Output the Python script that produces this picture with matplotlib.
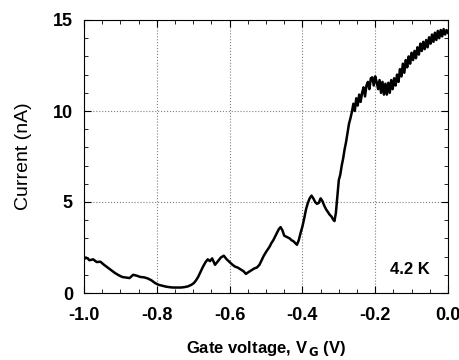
import numpy as np
import matplotlib.pyplot as plt
from matplotlib.ticker import MultipleLocator

plt.rcParams['font.family'] = ['Liberation Sans', 'DejaVu Sans']

# gate voltage (V) and current (nA)
vg = [-1.000, -0.995, -0.990, -0.985, -0.975, -0.965, -0.955, -0.945, -0.935, -0.925,
      -0.915, -0.905, -0.895, -0.885, -0.875, -0.865, -0.855, -0.845, -0.835, -0.825,
      -0.815, -0.805, -0.795, -0.785, -0.775, -0.765, -0.755, -0.745, -0.735, -0.725,
      -0.715, -0.705, -0.698, -0.692, -0.686, -0.680, -0.673, -0.666, -0.660, -0.654,
      -0.648, -0.640, -0.632, -0.624, -0.616, -0.608, -0.600, -0.592, -0.585, -0.578,
      -0.570, -0.562, -0.555, -0.548, -0.540, -0.532, -0.525, -0.518, -0.512, -0.506,
      -0.500, -0.495, -0.490, -0.485, -0.480, -0.475, -0.470, -0.465, -0.460, -0.455,
      -0.450, -0.445, -0.440, -0.435, -0.430, -0.425, -0.420, -0.415, -0.410, -0.405,
      -0.400, -0.395, -0.390, -0.385, -0.380, -0.375, -0.370, -0.365, -0.360, -0.355,
      -0.350, -0.345, -0.340, -0.335, -0.330, -0.325, -0.320, -0.316, -0.312, -0.308,
      -0.304, -0.300, -0.296, -0.292, -0.288, -0.284, -0.280, -0.276, -0.272, -0.268,
      -0.264, -0.260, -0.256, -0.252, -0.248, -0.244, -0.240, -0.236, -0.232, -0.228,
      -0.224, -0.220, -0.216, -0.212, -0.208, -0.204, -0.200, -0.196, -0.192, -0.188,
      -0.184, -0.180, -0.176, -0.172, -0.168, -0.164, -0.160, -0.156, -0.152, -0.148,
      -0.144, -0.140, -0.136, -0.132, -0.128, -0.124, -0.120, -0.116, -0.112, -0.108,
      -0.104, -0.100, -0.096, -0.092, -0.088, -0.084, -0.080, -0.076, -0.072, -0.068,
      -0.064, -0.060, -0.056, -0.052, -0.048, -0.044, -0.040, -0.036, -0.032, -0.028,
      -0.024, -0.020, -0.016, -0.012, -0.008, -0.004, 0.000]
current = [1.85, 1.95, 1.90, 1.80, 1.85, 1.70, 1.72, 1.55, 1.40, 1.25,
           1.10, 0.98, 0.88, 0.85, 0.82, 1.00, 0.95, 0.88, 0.86, 0.80,
           0.70, 0.55, 0.45, 0.40, 0.35, 0.32, 0.30, 0.30, 0.30, 0.32,
           0.36, 0.45, 0.55, 0.70, 0.90, 1.15, 1.45, 1.70, 1.85, 1.75,
           1.90, 1.55, 1.75, 1.95, 2.05, 1.85, 1.70, 1.55, 1.45, 1.40,
           1.30, 1.20, 1.05, 1.15, 1.25, 1.35, 1.40, 1.55, 1.80, 2.05,
           2.25, 2.40, 2.55, 2.75, 2.90, 3.10, 3.30, 3.50, 3.62, 3.45,
           3.15, 3.10, 3.05, 3.00, 2.90, 2.85, 2.75, 2.65, 2.90, 3.30,
           3.65, 4.10, 4.60, 4.95, 5.20, 5.35, 5.20, 5.00, 4.90, 4.95,
           5.20, 5.05, 4.80, 4.60, 4.45, 4.30, 4.20, 4.05, 3.95, 4.40,
           5.30, 6.20, 6.50, 7.00, 7.40, 7.90, 8.30, 8.80, 9.30, 9.60,
           9.95, 10.40, 10.00, 10.70, 10.30, 10.90, 10.50, 11.00, 11.30, 10.80,
           11.40, 11.60, 11.20, 11.80, 11.85, 11.40, 11.90, 11.60, 11.20, 11.70,
           11.00, 11.60, 10.90, 11.50, 10.90, 11.55, 11.00, 11.70, 11.20, 11.80,
           11.40, 12.00, 11.60, 12.30, 11.90, 12.60, 12.10, 12.80, 12.40, 13.00,
           12.60, 13.20, 12.80, 13.30, 12.90, 13.50, 13.10, 13.70, 13.30, 13.80,
           13.40, 13.90, 13.50, 14.05, 13.70, 14.20, 13.80, 14.30, 13.90, 14.40,
           14.00, 14.45, 14.10, 14.50, 14.20, 14.45, 14.30]

xticks = [-1.0, -0.8, -0.6, -0.4, -0.2, 0.0]
xtick_labels = ['-1.0', '-0.8', '-0.6', '-0.4', '-0.2', '0.0']
yticks = [0, 5, 10, 15]

fig = plt.figure(figsize=(4.6, 3.6), dpi=100)
ax = fig.add_axes([84/460, 67/360, 364/460, 273/360])

ax.plot(vg, current, color='black', linewidth=1.8)

ax.set_xlim(-1.0, 0.0)
ax.set_ylim(0, 15)
ax.set_xticks(xticks, xtick_labels, fontweight='bold')
ax.set_yticks(yticks, [str(t) for t in yticks], fontweight='bold')
ax.xaxis.set_minor_locator(MultipleLocator(0.05))
ax.yaxis.set_minor_locator(MultipleLocator(1))
ax.tick_params(which='both', direction='in', top=True, right=True)
ax.tick_params(which='major', length=5, labelsize=13)
ax.tick_params(axis='x', which='major', pad=10)
ax.tick_params(axis='y', which='major', pad=8)
ax.tick_params(which='minor', length=3)
ax.grid(True, which='major', color='grey', linestyle=':', linewidth=0.8)

ax.set_ylabel('Current (nA)', fontsize=14)
ax.yaxis.set_label_coords(-52/364, 0.5)
ax.set_xlabel(r'Gate voltage, V$_{\,\mathbf{G}}$ (V)', fontsize=12, fontweight='bold')
ax.xaxis.set_label_coords(0.5, -46/273)
ax.text(0.95, 0.085, '4.2 K', transform=ax.transAxes, ha='right', va='center',
        fontsize=12, fontweight='bold')

fig.savefig('out.png', dpi=100)
